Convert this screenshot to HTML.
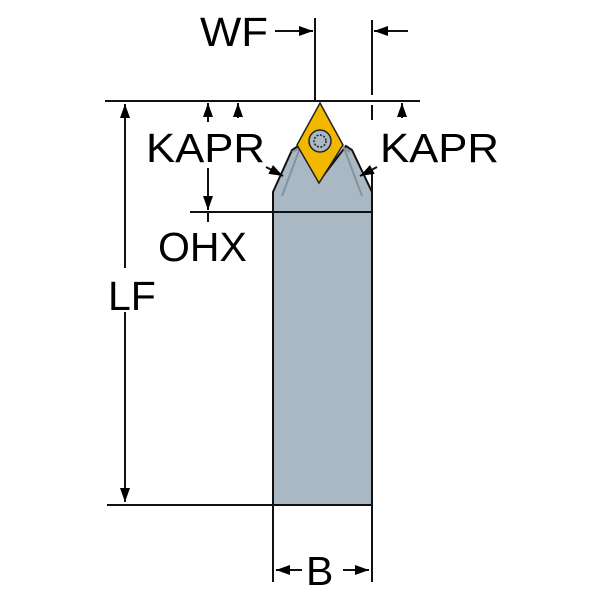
<!DOCTYPE html>
<html><head><style>body{margin:0;background:#fff}svg{display:block}</style></head><body>
<svg width="600" height="600" viewBox="0 0 600 600" xmlns="http://www.w3.org/2000/svg" font-family="Liberation Sans, sans-serif">
<defs>
<marker id="a" viewBox="0 0 14 10" refX="14" refY="5" markerWidth="14" markerHeight="10" markerUnits="userSpaceOnUse" orient="auto"><path d="M0,0 L14,5 L0,10z" fill="#000"/></marker>
</defs>
<path d="M273,505 L273,192 L292,150 L298,146 L320,180 L346,146 L352,150 L372,192 L372,505 Z" fill="#a9b8c3" stroke="#111" stroke-width="2"/>
<path d="M292,152 L300,148 L282,196" fill="none" stroke="#8593a0" stroke-width="2"/>
<path d="M350,152 L344,148 L362,196" fill="none" stroke="#8593a0" stroke-width="2"/>
<line x1="190" y1="212" x2="372" y2="212" stroke="#111" stroke-width="2"/>
<path d="M320,103 L343,145 L319,183 L297,145 Z" fill="#f2b800" stroke="#222" stroke-width="1.5"/>
<circle cx="320" cy="141" r="11" fill="#a9b8c3" stroke="#222" stroke-width="1.5"/>
<circle cx="320" cy="141" r="6" fill="none" stroke="#222" stroke-width="1.5" stroke-dasharray="2 1.5"/>
<g stroke="#111" stroke-width="2" fill="none">
<line x1="105" y1="101" x2="420" y2="101"/>
<line x1="315" y1="18" x2="315" y2="101"/>
<line x1="372" y1="20" x2="372" y2="95"/>
<line x1="372" y1="105" x2="372" y2="120"/>
<line x1="372" y1="170" x2="372" y2="192"/>
<line x1="107" y1="505" x2="273" y2="505"/>
<line x1="273" y1="505" x2="273" y2="582"/>
<line x1="372" y1="505" x2="372" y2="582"/>
<line x1="125" y1="268" x2="125" y2="104" marker-end="url(#a)"/>
<line x1="125" y1="312" x2="125" y2="502" marker-end="url(#a)"/>
<line x1="275" y1="31" x2="313" y2="31" marker-end="url(#a)"/>
<line x1="408" y1="31" x2="374" y2="31" marker-end="url(#a)"/>
<line x1="208" y1="168" x2="208" y2="210" marker-end="url(#a)"/>
<line x1="208" y1="213" x2="208" y2="222"/>
<line x1="208" y1="122" x2="208" y2="103" marker-end="url(#a)"/>
<line x1="238" y1="118" x2="238" y2="103" marker-end="url(#a)"/>
<line x1="402" y1="118" x2="402" y2="103" marker-end="url(#a)"/>
<line x1="266" y1="167" x2="283" y2="176" marker-end="url(#a)"/>
<line x1="377" y1="167" x2="360" y2="176" marker-end="url(#a)"/>
<line x1="302" y1="570" x2="276" y2="570" marker-end="url(#a)"/>
<line x1="343" y1="570" x2="369" y2="570" marker-end="url(#a)"/>
</g>
<g font-size="41" fill="#000">
<text x="200" y="46" textLength="68" lengthAdjust="spacingAndGlyphs">WF</text>
<text x="146" y="162" textLength="119" lengthAdjust="spacingAndGlyphs">KAPR</text>
<text x="380" y="162" textLength="119" lengthAdjust="spacingAndGlyphs">KAPR</text>
<text x="158" y="261">OHX</text>
<text x="108" y="310">LF</text>
<text x="306" y="585">B</text>
</g>
</svg>
</body></html>
